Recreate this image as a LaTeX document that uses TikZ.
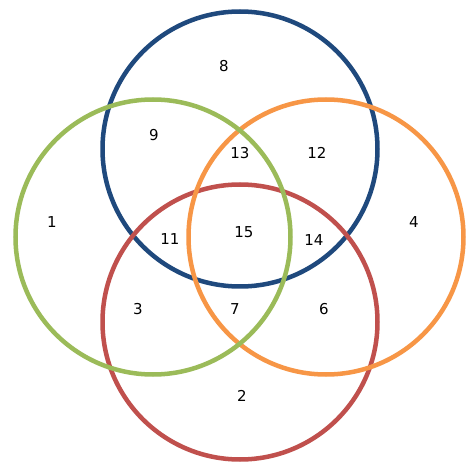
\documentclass[tikz,border=0pt]{standalone}
\usepackage{fontspec}
\setmainfont{DejaVu Sans}
\definecolor{vblue}{HTML}{1F497D}
\definecolor{vgreen}{HTML}{9BBB59}
\definecolor{vorange}{HTML}{F79646}
\definecolor{vred}{HTML}{C0504D}
\begin{document}
\begin{tikzpicture}[x=1pt,y=-1pt,
  ring/.style={circle,draw,line width=4.5pt,minimum size=275pt,inner sep=0pt},
  lbl/.style={font=\fontsize{15}{15}\selectfont,inner sep=0pt}]
\useasboundingbox (0,0) rectangle (472,468);
\fill[white] (0,0) rectangle (472,468);
\node[ring,draw=vblue] (blue) at (240,149) {};
\node[ring,draw=vred] (red) at (240,322) {};
\node[ring,draw=vorange] (orange) at (326,237) {};
\node[ring,draw=vgreen] (green) at (153,237) {};
\node[lbl] (l8) at (224,66) {8};
\node[lbl] (l9) at (154,135) {9};
\node[lbl] (l13) at (240,153) {13};
\node[lbl] (l12) at (317,153) {12};
\node[lbl] (l1) at (52,222) {1};
\node[lbl] (l11) at (170,239) {11};
\node[lbl] (l15) at (244,232) {15};
\node[lbl] (l14) at (314,240) {14};
\node[lbl] (l4) at (414,222) {4};
\node[lbl] (l3) at (138,309) {3};
\node[lbl] (l7) at (235,309) {7};
\node[lbl] (l6) at (324,309) {6};
\node[lbl] (l2) at (242,396) {2};
\end{tikzpicture}
\end{document}
